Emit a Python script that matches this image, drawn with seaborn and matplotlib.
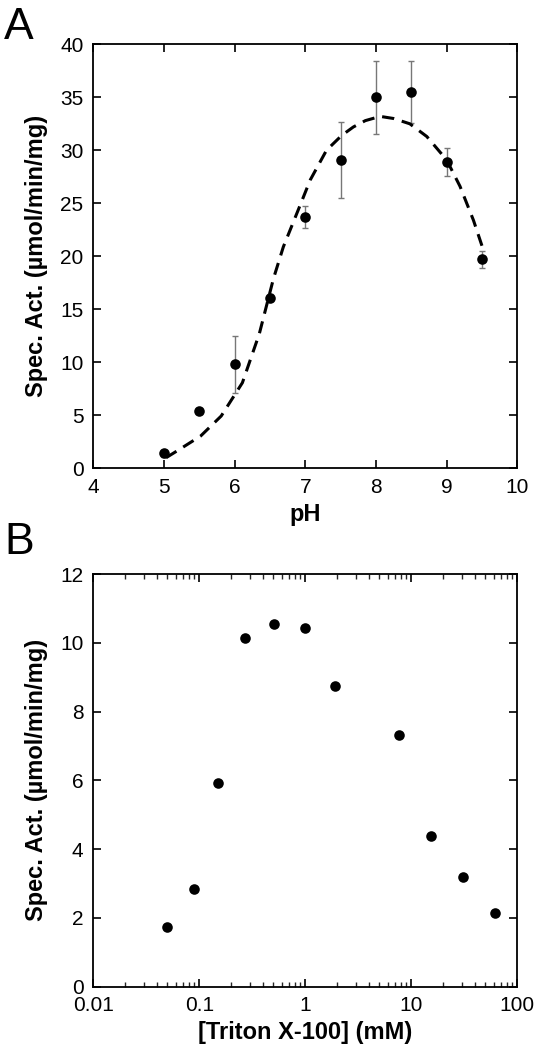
import numpy as np
import pandas as pd
import matplotlib
matplotlib.use("Agg")
import matplotlib.pyplot as plt
import seaborn as sns
from matplotlib.ticker import LogLocator, NullFormatter, FixedLocator

# Panel A data
ph = [5.0, 5.5, 6.0, 6.5, 7.0, 7.5, 8.0, 8.5, 9.0, 9.5]
act_ph = [1.4, 5.4, 9.8, 16.1, 23.7, 29.1, 35.0, 35.5, 28.9, 19.7]
err_ph = [0.3, 0.3, 2.7, 0.3, 1.0, 3.6, 3.45, 2.9, 1.3, 0.8]

# Fitted curve
fit_ph = [5.03, 5.2, 5.52, 5.81, 6.11, 6.35, 6.45, 6.55, 6.69, 6.92, 7.07, 7.30,
          7.515, 7.68, 7.85, 8.06, 8.25, 8.48, 8.72, 9.0, 9.19, 9.38, 9.52]
fit_act = [1.0, 1.7, 3.05, 4.93, 8.07, 12.7, 15.3, 17.9, 20.9, 24.7, 27.2, 30.0,
           31.4, 32.2, 32.8, 33.2, 33.0, 32.5, 31.3, 29.1, 26.6, 23.4, 20.6]

# Panel B data
triton = [0.05, 0.09, 0.15, 0.27, 0.51, 1.0, 1.89, 7.6, 15.3, 30.5, 61.0]
act_tr = [1.73, 2.85, 5.91, 10.15, 10.54, 10.42, 8.74, 7.33, 4.38, 3.19, 2.13]

sns.set_style("ticks")
plt.rcParams['font.family'] = ['Liberation Sans', 'DejaVu Sans']
plt.rcParams['text.color'] = 'black'
plt.rcParams['axes.labelcolor'] = 'black'

fig = plt.figure(figsize=(5.43, 10.5), dpi=100)
axA = fig.add_axes([0.1718, 0.554, 0.7808, 0.4038])
axB = fig.add_axes([0.1718, 0.0603, 0.7808, 0.393])

lab_fs = 17
tick_fs = 15

# Panel A
axA.errorbar(ph, act_ph, yerr=err_ph, fmt='none', ecolor='#777777', elinewidth=1.0,
             capsize=2.5, capthick=1.0, zorder=2)
sns.lineplot(x=fit_ph, y=fit_act, ax=axA, color='black', lw=2.2, linestyle=(0, (4, 2.6)),
             sort=False, zorder=3)
sns.scatterplot(x=ph, y=act_ph, ax=axA, color='black', s=58, edgecolor='black',
                linewidth=0, zorder=4)
axA.set_xlim(4, 10)
axA.set_ylim(0, 40)
axA.set_xticks(range(4, 11))
axA.set_yticks(range(0, 41, 5))
axA.set_xlabel('pH', fontsize=lab_fs, fontweight='bold', labelpad=4)
axA.set_ylabel('Spec. Act. (µmol/min/mg)', fontsize=lab_fs, fontweight='bold', labelpad=9)

# Panel B
sns.scatterplot(x=triton, y=act_tr, ax=axB, color='black', s=58, edgecolor='black',
                linewidth=0, zorder=4)
axB.set_xscale('log')
axB.set_xlim(0.01, 100)
axB.set_ylim(0, 12)
axB.set_yticks(range(0, 13, 2))
axB.xaxis.set_major_locator(FixedLocator([0.01, 0.1, 1, 10, 100]))
axB.set_xticklabels(['0.01', '0.1', '1', '10', '100'])
axB.xaxis.set_minor_locator(LogLocator(base=10, subs=np.arange(2, 10), numticks=20))
axB.xaxis.set_minor_formatter(NullFormatter())
axB.set_xlabel('[Triton X-100] (mM)', fontsize=lab_fs, fontweight='bold', labelpad=4)
axB.set_ylabel('Spec. Act. (µmol/min/mg)', fontsize=lab_fs, fontweight='bold', labelpad=9)

for ax in (axA, axB):
    for s in ax.spines.values():
        s.set_linewidth(1.3)
        s.set_color('black')
    ax.tick_params(which='major', direction='in', length=6, width=1.2, top=True, right=True,
                   labelsize=tick_fs, colors='black')
    ax.tick_params(axis='y', which='major', pad=7)
    ax.tick_params(axis='x', which='major', pad=7)
    ax.tick_params(which='minor', direction='in', length=3.5, width=1.0, top=True, right=True)

fig.text(0.008, 0.993, 'A', fontsize=32, va='top', ha='left')
fig.text(0.008, 0.503, 'B', fontsize=32, va='top', ha='left')

fig.savefig('out.png', dpi=100)
